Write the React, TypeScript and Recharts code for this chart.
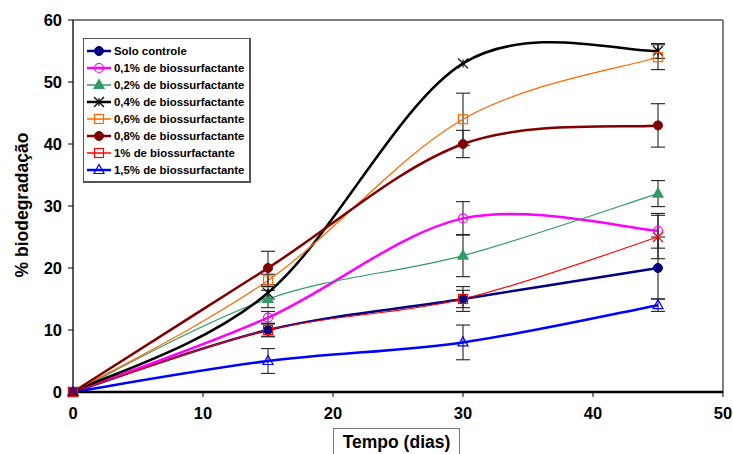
import React from "react";
import {
  LineChart,
  Line,
  XAxis,
  YAxis,
  ErrorBar,
  ReferenceLine,
  Legend,
} from "recharts";

const days = [0, 15, 30, 45];

const soloControle = [0, 10, 15, 20];
const soloControleErr = [null, 1, 2, 5];
const bio01 = [0, 12, 28, 26];
const bio01Err = [null, 1, 2.7, 2.8];
const bio02 = [0, 15, 22, 32];
const bio02Err = [null, 1.4, 3.4, 2.1];
const bio04 = [0, 16, 53, 55];
const bio04Err = [null, 1, null, 1.2];
const bio06 = [0, 18, 44, 54];
const bio06Err = [null, 1, 4.2, 2];
const bio08 = [0, 20, 40, 43];
const bio08Err = [null, 2.7, 2.2, 3.5];
const bio1 = [0, 10, 15, 25];
const bio1Err = [null, 1.1, 1.4, 3.5];
const bio15 = [0, 5, 8, 14];
const bio15Err = [null, 2, 2.8, 1];

const xTicks = [0, 10, 20, 30, 40, 50];
const yTicks = [0, 10, 20, 30, 40, 50, 60];

type Marker =
  | "dot"
  | "ring"
  | "tri"
  | "openTri"
  | "square"
  | "star"
  | "squareX";

const series = [
  { key: "s0", name: "Solo controle", color: "#000080", width: 2.5, marker: "dot" as Marker, values: soloControle, err: soloControleErr },
  { key: "s1", name: "0,1% de biossurfactante", color: "#FF00FF", width: 2.5, marker: "ring" as Marker, values: bio01, err: bio01Err },
  { key: "s2", name: "0,2% de biossurfactante", color: "#339966", width: 1.2, marker: "tri" as Marker, values: bio02, err: bio02Err },
  { key: "s3", name: "0,4% de biossurfactante", color: "#000000", width: 2.5, marker: "star" as Marker, values: bio04, err: bio04Err },
  { key: "s4", name: "0,6% de biossurfactante", color: "#FF6600", width: 1.2, marker: "square" as Marker, values: bio06, err: bio06Err },
  { key: "s5", name: "0,8% de biossurfactante", color: "#800000", width: 2.5, marker: "dot" as Marker, values: bio08, err: bio08Err },
  { key: "s6", name: "1% de biossurfactante", color: "#FF0000", width: 1.2, marker: "squareX" as Marker, values: bio1, err: bio1Err },
  { key: "s7", name: "1,5% de biossurfactante", color: "#0000FF", width: 2.5, marker: "openTri" as Marker, values: bio15, err: bio15Err },
];

const data = days.map((d, i) => {
  const row: any = { day: d };
  series.forEach((s) => {
    row[s.key] = s.values[i];
    row[s.key + "e"] = s.err[i];
  });
  return row;
});

// smoothed line like the spreadsheet one (catmull-rom, 1/6 handles)
const smoothCurve: any = (context: any) => {
  let pts: number[][] = [];
  return {
    areaStart() {},
    areaEnd() {},
    lineStart() {
      pts = [];
    },
    point(x: number, y: number) {
      pts.push([x, y]);
    },
    lineEnd() {
      const n = pts.length;
      if (!n) return;
      context.moveTo(pts[0][0], pts[0][1]);
      for (let i = 0; i < n - 1; i++) {
        const p0 = pts[Math.max(i - 1, 0)];
        const p1 = pts[i];
        const p2 = pts[i + 1];
        const p3 = pts[Math.min(i + 2, n - 1)];
        context.bezierCurveTo(
          p1[0] + (p2[0] - p0[0]) / 6,
          p1[1] + (p2[1] - p0[1]) / 6,
          p2[0] - (p3[0] - p1[0]) / 6,
          p2[1] - (p3[1] - p1[1]) / 6,
          p2[0],
          p2[1]
        );
      }
    },
  };
};

const drawMarker = (m: Marker, color: string, cx: number, cy: number, last = false, k?: any) => {
  if (m === "dot") return <circle key={k} cx={cx} cy={cy} r={4.5} fill={color} stroke={color} />;
  if (m === "ring") return <circle key={k} cx={cx} cy={cy} r={4.5} fill="none" stroke={color} strokeWidth={1.2} />;
  if (m === "tri" || m === "openTri")
    return (
      <polygon
        key={k}
        points={`${cx},${cy - 5.5} ${cx - 5},${cy + 3.5} ${cx + 5},${cy + 3.5}`}
        fill={m === "tri" ? color : "none"}
        stroke={color}
        strokeWidth={1.2}
      />
    );
  if (m === "star")
    return (
      <g key={k} stroke={color} strokeWidth={1.2}>
        <line x1={cx - 5} y1={cy - 5} x2={cx + 5} y2={cy + 5} />
        <line x1={cx - 5} y1={cy + 5} x2={cx + 5} y2={cy - 5} />
        <line x1={cx} y1={cy - 4} x2={cx} y2={cy + 4} />
      </g>
    );
  if (m === "squareX" && last)
    return (
      <g key={k} stroke={color} strokeWidth={1.2}>
        <line x1={cx - 5} y1={cy - 5} x2={cx + 5} y2={cy + 5} />
        <line x1={cx - 5} y1={cy + 5} x2={cx + 5} y2={cy - 5} />
      </g>
    );
  return <rect key={k} x={cx - 4.5} y={cy - 4.5} width={9} height={9} fill="none" stroke={color} strokeWidth={1.2} />;
};

const LegendBox = () => (
  <div
    style={{
      border: "1px solid #555",
      borderRightWidth: 2,
      borderBottomWidth: 2,
      background: "#fff",
      padding: "3px 0 3px 2px",
      fontFamily: "Arial, 'Liberation Sans', sans-serif",
      fontWeight: "bold",
      fontSize: 11.4,
    }}
  >
    {series.map((s) => (
      <div key={s.key} style={{ display: "flex", alignItems: "center", height: 17 }}>
        <svg width={26} height={14} style={{ marginRight: 2 }}>
          <line x1={1} y1={7} x2={25} y2={7} stroke={s.color} strokeWidth={s.width > 2 ? 2.5 : 1.5} />
          {drawMarker(s.marker, s.color, 13, 7)}
        </svg>
        <span style={{ color: "#000", whiteSpace: "nowrap" }}>{s.name}</span>
      </div>
    ))}
  </div>
);

const tickStyle = {
  fontFamily: "Arial, 'Liberation Sans', sans-serif",
  fontWeight: "bold",
  fontSize: 16.5,
  fill: "#000",
};

export default function App() {
  return (
    <div
      style={{
        position: "fixed",
        left: 0,
        top: 0,
        width: 733,
        height: 454,
        background: "#fff",
        overflow: "hidden",
        fontFamily: "Arial, 'Liberation Sans', sans-serif",
      }}
    >
      <LineChart
        width={733}
        height={454}
        data={data}
        margin={{ top: 20, right: 10, left: 0, bottom: 0 }}
      >
        <XAxis
          dataKey="day"
          type="number"
          domain={[0, 50]}
          ticks={xTicks}
          height={62}
          tickSize={5}
          tickMargin={10}
          tick={tickStyle}
          axisLine={{ stroke: "#000", strokeWidth: 2.5 }}
          tickLine={{ stroke: "#000" }}
        />
        <YAxis
          type="number"
          domain={[0, 60]}
          ticks={yTicks}
          width={73}
          tickSize={5}
          tickMargin={6}
          tick={tickStyle}
          axisLine={{ stroke: "#000", strokeWidth: 1.3 }}
          tickLine={{ stroke: "#000" }}
        />
        <ReferenceLine y={60} stroke="#000" strokeWidth={1} ifOverflow="visible" />
        <ReferenceLine x={50} stroke="#808080" strokeWidth={2} ifOverflow="visible" />
        {series.map((s) => (
          <Line
            key={s.key}
            dataKey={s.key}
            name={s.name}
            type={smoothCurve}
            stroke={s.color}
            strokeWidth={s.width}
            isAnimationActive={false}
            dot={(p: any) => drawMarker(s.marker, s.color, p.cx, p.cy, p.index === days.length - 1, p.index)}
            activeDot={false}
          >
            <ErrorBar
              dataKey={s.key + "e"}
              direction="y"
              width={7}
              stroke="#222"
              strokeWidth={1.1}
              isAnimationActive={false}
            />
          </Line>
        ))}
        <Legend
          layout="vertical"
          align="center"
          verticalAlign="middle"
          wrapperStyle={{ left: 83, top: 38, width: 168 }}
          content={() => <LegendBox />}
        />
      </LineChart>
      <div
        style={{
          position: "absolute",
          left: 22,
          top: 205,
          transform: "translate(-50%, -50%) rotate(-90deg)",
          whiteSpace: "nowrap",
          fontWeight: "bold",
          fontSize: 17.5,
        }}
      >
        % biodegradação
      </div>
      <div
        style={{
          position: "absolute",
          left: 333,
          top: 428,
          width: 127,
          height: 30,
          border: "1px solid #777",
          boxSizing: "border-box",
          textAlign: "center",
          fontWeight: "bold",
          fontSize: 17.5,
          lineHeight: "26px",
        }}
      >
        Tempo (dias)
      </div>
    </div>
  );
}
